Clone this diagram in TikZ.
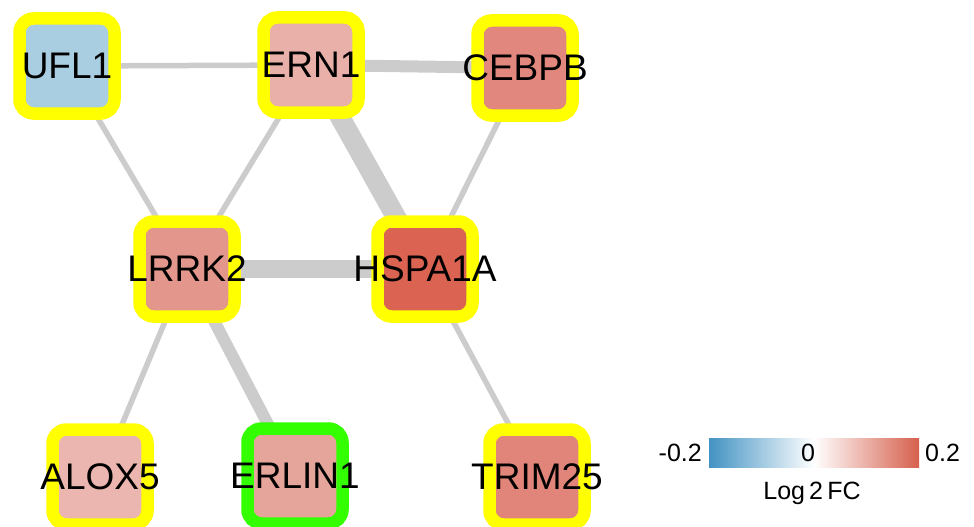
\documentclass[tikz,border=0pt]{standalone}
\usepackage{fontspec}
\setmainfont{Liberation Sans}
\pgfdeclarelayer{background}
\pgfsetlayers{background,main}

% node fills (Log2 FC scale)
\definecolor{cUFL}{HTML}{A9CDE1}
\definecolor{cERN}{HTML}{E8B0A8}
\definecolor{cCEBPB}{HTML}{E2877D}
\definecolor{cLRRK}{HTML}{E3978C}
\definecolor{cHSPA}{HTML}{DB6352}
\definecolor{cALOX}{HTML}{EBB6AF}
\definecolor{cERLIN}{HTML}{E6A59B}
\definecolor{cTRIM}{HTML}{E1857A}
\definecolor{ringY}{HTML}{FFFF00}
\definecolor{ringG}{HTML}{33FF00}
\definecolor{edgegray}{HTML}{CCCCCC}
\definecolor{scaleblue}{HTML}{4393C3}
\definecolor{scalered}{HTML}{D6604D}

\tikzset{
  gene/.style={rectangle, rounded corners=14pt, line width=12.5pt,
    minimum width=95pt, minimum height=95pt, inner sep=0pt,
    font=\fontsize{37}{37}\selectfont, text=black},
  ppi/.style={draw=edgegray, line cap=round},
  thinedge/.style={ppi, line width=5.5pt},
  legendtxt/.style={font=\fontsize{25}{25}\selectfont, inner sep=0pt}
}
\newcommand{\gname}[1]{\makebox[0pt]{#1}}

\begin{document}
\begin{tikzpicture}[x=1pt, y=-1pt]
\useasboundingbox (0,0) rectangle (974,527);

% genes
\node[gene, draw=ringY, fill=cUFL]   (ufl)   at (67,66)   {\gname{UFL1}};
\node[gene, draw=ringY, fill=cERN]   (ern)   at (311,65)  {\gname{ERN1}};
\node[gene, draw=ringY, fill=cCEBPB] (cebpb) at (525,68)  {\gname{CEBPB}};
\node[gene, draw=ringY, fill=cLRRK]  (lrrk)  at (187,269) {\gname{LRRK2}};
\node[gene, draw=ringY, fill=cHSPA]  (hspa)  at (425,269) {\gname{HSPA1A}};
\node[gene, draw=ringY, fill=cALOX]  (alox)  at (100,477) {\gname{ALOX5}};
\node[gene, draw=ringG, fill=cERLIN] (erlin) at (295,476) {\gname{ERLIN1}};
\node[gene, draw=ringY, fill=cTRIM]  (trim)  at (537,477) {\gname{TRIM25}};

% interactions, width by score
\begin{pgfonlayer}{background}
\draw[thinedge] (ufl.center) -- (ern.center);
\draw[ppi, line width=12pt] (ern.center) -- (cebpb.center);
\draw[ppi, line width=20pt] (ern.center) -- (hspa.center);
\draw[thinedge] (ern.center) -- (lrrk.center);
\draw[thinedge] (ufl.center) -- (lrrk.center);
\draw[thinedge] (cebpb.center) -- (hspa.center);
\draw[ppi, line width=18pt] (lrrk.center) -- (hspa.center);
\draw[thinedge] (lrrk.center) -- (alox.center);
\draw[ppi, line width=12pt] (lrrk.center) -- (erlin.center);
\draw[thinedge] (hspa.center) -- (trim.center);
\end{pgfonlayer}

% colour scale
\shade[left color=scaleblue, right color=scalered, middle color=white]
  (709,438) rectangle (919,467);
\node[legendtxt, anchor=east] (lo) at (702,452.5) {-0.2};
\node[legendtxt] (zero) at (808,452.5) {0};
\node[legendtxt, anchor=west] (hi) at (925,452.5) {0.2};
\node[legendtxt] (ttl) at (812,493) {Log\,2\,FC};
\end{tikzpicture}
\end{document}
